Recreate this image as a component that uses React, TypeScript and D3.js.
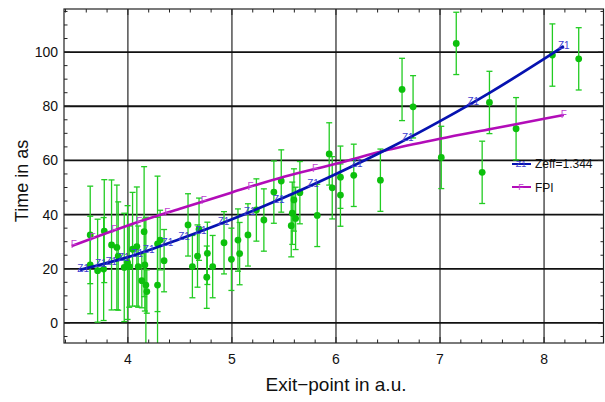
import React from 'react';
import * as d3 from 'd3';

const W = 605;
const H = 402;
const margin = { top: 9, right: 1, bottom: 59, left: 64 };

// measured points (exit point, time) with error half-widths
const ptX = [3.638, 3.638, 3.709, 3.767, 3.773, 3.843, 3.894, 3.907, 3.965, 3.997, 4.013, 4.045, 4.086, 4.099, 4.134, 4.156, 4.163, 4.173, 4.182, 4.285, 4.285, 4.31, 4.348,
  4.578, 4.62, 4.669, 4.684, 4.758, 4.764, 4.815, 4.924, 4.995, 5.058, 5.074, 5.154, 5.235, 5.307, 5.403, 5.474, 5.57, 5.58, 5.596, 5.612, 5.653, 5.82,
  5.935, 5.964, 6.043, 6.043, 6.171, 6.427, 6.635, 6.741, 7.012, 7.156, 7.405, 7.475, 7.731, 8.08, 8.333];
const ptY = [32.5, 21.4, 19.3, 19.9, 33.9, 28.8, 27.9, 24.7, 20.5, 22.3, 20.8, 27.2, 28.2, 20.8, 15.6, 33.7, 21.4, 14.0, 11.6, 29.2, 14.0, 30.6, 23.0,
  36.2, 20.8, 24.7, 34.6, 16.9, 25.7, 20.8, 29.6, 23.5, 30.6, 25.6, 32.5, 41.7, 38.0, 48.3, 52.4, 35.9, 40.5, 45.4, 38.6, 48.1, 39.7,
  62.4, 49.9, 53.8, 47.2, 54.5, 52.7, 86.2, 79.8, 61.1, 103.2, 55.6, 81.4, 71.7, 98.9, 97.5];
const ptErr = [18, 18, 19, 19, 19, 24, 23, 20, 20, 21, 15, 21, 22, 15, 10, 24, 17, 25, 8, 25, 25, 11, 11.5,
  11.5, 11.5, 11.5, 11.5, 11.5, 11.5, 11.5, 11.5, 11.5, 11.5, 11.5, 11.5, 11.5, 11.5, 11.5, 11.5, 11.5, 11.5, 11.5, 11.5, 11.5, 11.5,
  11.5, 11.5, 11.5, 11.5, 11.5, 11.5, 11.5, 11.5, 11.5, 11.5, 11.5, 11.5, 11.5, 11.5, 11.5];

// model curves
const zeffX = [3.54, 4.0, 4.5, 5.0, 5.5, 6.0, 6.5, 7.0, 7.5, 8.0, 8.19];
const zeffY = [19.6, 24.3, 31.0, 38.3, 46.3, 55.0, 64.3, 74.5, 85.5, 97.5, 102.2];
const fpiX = [3.46, 4.0, 4.5, 5.0, 5.5, 6.0, 6.5, 7.0, 7.5, 8.0, 8.19];
const fpiY = [28.4, 36.0, 42.2, 48.2, 54.0, 58.8, 63.9, 68.0, 71.7, 75.4, 76.8];
const zeffMarkX = [3.57, 3.74, 3.84, 3.96, 4.09, 4.2, 4.38, 4.54, 4.7, 4.92, 5.17, 5.45, 5.78, 6.2, 6.69, 7.32, 8.19];
const fpiMarkX = [3.48, 3.66, 3.87, 4.11, 4.38, 4.73, 5.18, 5.8, 8.19];

const xTicks = [4, 5, 6, 7, 8];
const yTicks = [0, 20, 40, 60, 80, 100];
const legendLabels = ['Zeff=1.344', 'FPI'];

const FONT = '"Liberation Sans", Arial, Helvetica, sans-serif';

export default function App() {
  const iw = W - margin.left - margin.right;
  const ih = H - margin.top - margin.bottom;
  const x = d3.scaleLinear().domain([3.386, 8.576]).range([margin.left, margin.left + iw]);
  const y = d3.scaleLinear().domain([-7.4, 115.9]).range([margin.top + ih, margin.top]);

  const xMinor = d3.range(3.4, 8.6, 0.2).filter(v => !xTicks.some(t => Math.abs(t - v) < 1e-6));
  const yMinor = d3.range(-5, 116, 5).filter(v => v % 20 !== 0);

  const zeffLine = d3.line<number>().x((_, i) => x(zeffX[i])).y(d => y(d)).curve(d3.curveMonotoneX)(zeffY) || '';
  const fpiLine = d3.line<number>().x((_, i) => x(fpiX[i])).y(d => y(d)).curve(d3.curveMonotoneX)(fpiY) || '';
  const zeffAt = d3.scaleLinear().domain(zeffX).range(zeffY);
  const fpiAt = d3.scaleLinear().domain(fpiX).range(fpiY);

  const x0 = margin.left, x1 = margin.left + iw, y0 = margin.top, y1 = margin.top + ih;
  const blue = '#0612b0';
  const mag = '#b20cb8';
  const green = '#22cc22';

  return (
    <div style={{ position: 'fixed', left: 0, top: 0 }}>
      <svg width={W} height={H} style={{ display: 'block', background: '#fff' }}>
        <defs>
          <clipPath id="plot">
            <rect x={x0} y={y0} width={iw} height={ih} />
          </clipPath>
        </defs>
        {/* grid */}
        {xTicks.map(t => (
          <line key={'gx' + t} x1={x(t)} x2={x(t)} y1={y0} y2={y1} stroke="#444" strokeWidth={1.4} />
        ))}
        {yTicks.map(t => (
          <line key={'gy' + t} x1={x0} x2={x1} y1={y(t)} y2={y(t)} stroke="#111" strokeWidth={1.8} />
        ))}
        <g clipPath="url(#plot)">
          {ptX.map((px, i) => (
            <g key={'e' + i} stroke={green} strokeWidth={1.3}>
              <line x1={x(px)} x2={x(px)} y1={y(ptY[i] + ptErr[i])} y2={y(ptY[i] - ptErr[i])} />
              <line x1={x(px) - 3} x2={x(px) + 3} y1={y(ptY[i] + ptErr[i])} y2={y(ptY[i] + ptErr[i])} />
              <line x1={x(px) - 3} x2={x(px) + 3} y1={y(ptY[i] - ptErr[i])} y2={y(ptY[i] - ptErr[i])} />
            </g>
          ))}
          {ptX.map((px, i) => (
            <circle key={'p' + i} cx={x(px)} cy={y(ptY[i])} r={3.4} fill="#0cc00c" />
          ))}
          <path d={fpiLine} fill="none" stroke={mag} strokeWidth={2.6} />
          <path d={zeffLine} fill="none" stroke={blue} strokeWidth={2.8} />
          {fpiMarkX.map((m, i) => (
            <text key={'fm' + i} x={x(m)} y={y(fpiAt(m)) + 3} fontSize={10} fill="#c040d0" textAnchor="middle" fontFamily={FONT}>F</text>
          ))}
          {zeffMarkX.map((m, i) => (
            <text key={'zm' + i} x={x(m)} y={y(zeffAt(m)) + 3} fontSize={10} fill="#4040d0" textAnchor="middle" fontFamily={FONT}>Z1</text>
          ))}
        </g>
        {/* frame */}
        <rect x={x0} y={y0} width={iw - 0.5} height={ih} fill="none" stroke="#222" strokeWidth={1.2} />
        {/* ticks */}
        {xTicks.map(t => (
          <g key={'xt' + t} stroke="#222" strokeWidth={1}>
            <line x1={x(t)} x2={x(t)} y1={y1} y2={y1 - 6} />
            <line x1={x(t)} x2={x(t)} y1={y0} y2={y0 + 6} />
          </g>
        ))}
        {xMinor.map(t => (
          <g key={'xm' + t} stroke="#222" strokeWidth={1}>
            <line x1={x(t)} x2={x(t)} y1={y1} y2={y1 - 3.5} />
            <line x1={x(t)} x2={x(t)} y1={y0} y2={y0 + 3.5} />
          </g>
        ))}
        {yTicks.map(t => (
          <g key={'yt' + t} stroke="#222" strokeWidth={1}>
            <line x1={x0} x2={x0 + 6} y1={y(t)} y2={y(t)} />
            <line x1={x1} x2={x1 - 6} y1={y(t)} y2={y(t)} />
          </g>
        ))}
        {yMinor.map(t => (
          <g key={'ym' + t} stroke="#222" strokeWidth={1}>
            <line x1={x0} x2={x0 + 3.5} y1={y(t)} y2={y(t)} />
            <line x1={x1} x2={x1 - 3.5} y1={y(t)} y2={y(t)} />
          </g>
        ))}
        {/* tick labels */}
        {xTicks.map(t => (
          <text key={'xl' + t} x={x(t)} y={364} fontSize={14} textAnchor="middle" fontFamily={FONT} fill="#111">{t}</text>
        ))}
        {yTicks.map(t => (
          <text key={'yl' + t} x={58} y={y(t) + 5} fontSize={14} textAnchor="end" fontFamily={FONT} fill="#111">{t}</text>
        ))}
        {/* axis titles */}
        <text x={336} y={391} fontSize={19} textAnchor="middle" fontFamily={FONT} fill="#111">Exit−point in a.u.</text>
        <text transform="translate(28,181) rotate(-90)" fontSize={18} textAnchor="middle" fontFamily={FONT} fill="#111">Time in as</text>
        {/* legend */}
        <g fontFamily={FONT}>
          <line x1={512} x2={531} y1={164} y2={164} stroke={blue} strokeWidth={2} />
          <text x={521} y={167} fontSize={9} fill="#4040d0" textAnchor="middle">Z1</text>
          <text x={535} y={168} fontSize={12} fill="#111">{legendLabels[0]}</text>
          <line x1={512} x2={531} y1={187} y2={187} stroke={mag} strokeWidth={2} />
          <text x={521} y={190} fontSize={9} fill="#c040d0" textAnchor="middle">F</text>
          <text x={535} y={192} fontSize={12} fill="#111">{legendLabels[1]}</text>
        </g>
      </svg>
    </div>
  );
}
